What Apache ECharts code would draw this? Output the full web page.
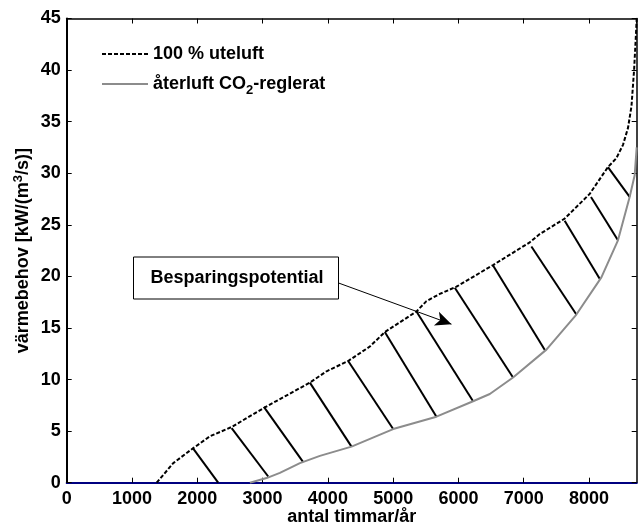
<!DOCTYPE html>
<html>
<head>
<meta charset="utf-8">
<script src="https://cdn.jsdelivr.net/npm/echarts@6/dist/echarts.min.js"></script>
<style>html,body{margin:0;padding:0;background:#fff}#c{width:638px;height:526px}</style>
</head>
<body>
<div id="c"></div>
<script>
const seriesNames = ['100 % uteluft', 'återluft CO₂-reglerat'];
const xTicks = [0, 1000, 2000, 3000, 4000, 5000, 6000, 7000, 8000];
const yTicks = [0, 5, 10, 15, 20, 25, 30, 35, 40, 45];
const xLabel = 'antal timmar/år';
const annotationText = 'Besparingspotential';

// 100 % uteluft [hours, kW/(m3/s)]
const uteluft = [
  [1378, 0], [1632, 1.9], [1938, 3.35], [2194, 4.5], [2526, 5.4], [3035, 7.3],
  [3724, 9.7], [3980, 10.8], [4311, 11.8], [4643, 13.2], [4872, 14.6],
  [5357, 16.6], [5510, 17.6], [5714, 18.3], [5970, 19.0], [6530, 21.1],
  [7092, 23.3], [7245, 24.1], [7627, 25.6], [8010, 28.0], [8290, 30.6],
  [8418, 31.45], [8520, 32.75], [8597, 34.4], [8650, 36.5], [8690, 40.0],
  [8715, 43.0], [8730, 45.0]
];
// återluft CO2-reglerat
const aterluft = [
  [2806, 0], [3061, 0.45], [3265, 0.95], [3572, 1.9], [3878, 2.6], [4362, 3.5],
  [5000, 5.2], [5663, 6.4], [6224, 7.9], [6480, 8.6], [6836, 10.2], [7347, 12.9],
  [7806, 16.3], [8189, 19.9], [8443, 23.5], [8622, 27.7], [8699, 29.8], [8730, 32.5]
];
// hatch segments between the curves [x1, y1, x2, y2]
const hatch = [
  [1938, 3.3, 2320, 0], [2526, 5.3, 3086, 0.6], [3020, 7.35, 3622, 2.0],
  [3724, 9.7, 4362, 3.5], [4311, 11.8, 5000, 5.2], [4872, 14.6, 5663, 6.4],
  [5357, 16.6, 6224, 7.9], [5944, 18.9, 6836, 10.2], [6530, 21.05, 7330, 12.8],
  [7117, 22.9, 7806, 16.3], [7627, 25.4, 8170, 19.7], [8030, 27.7, 8443, 23.5],
  [8290, 30.6, 8622, 27.7]
];
// arrow from annotation box into hatched area
const arrow = [[4133, 19.43], [5893, 15.37]];

const xMin = 0, xMax = 8730, yMin = 0, yMax = 45;
const font = 'Liberation Sans, Arial, sans-serif';

const chart = echarts.init(document.getElementById('c'));
const tickCommon = {inside: true, length: 5, lineStyle: {color: '#000', width: 1}};
chart.setOption({
  animation: false,
  grid: {left: 66.7, right: 1.3, top: 18.5, bottom: 43.3, containLabel: false, outerBoundsMode: 'none'},
  legend: {
    orient: 'vertical', left: 96, top: 40,
    data: seriesNames, itemWidth: 46, itemHeight: 14, itemGap: 12,
    itemStyle: {opacity: 0},
    textStyle: {
      fontFamily: font, fontSize: 18, fontWeight: 'bold', color: '#000',
      rich: {
        a: {fontFamily: font, fontSize: 18, fontWeight: 'bold', color: '#000'},
        s: {fontFamily: font, fontSize: 13, fontWeight: 'bold', color: '#000', padding: [12, 0, 0, 0]}
      }
    },
    formatter: function (n) {
      const i = n.indexOf('₂');
      if (i < 0) return '{a|' + n + '}';
      return '{a|' + n.slice(0, i) + '}{s|2}{a|' + n.slice(i + 1) + '}';
    }
  },
  xAxis: [{
    type: 'value', min: xMin, max: xMax, interval: 1000, position: 'bottom',
    name: xLabel, nameLocation: 'middle', nameGap: 25, nameMoveOverlap: false,
    nameTextStyle: {fontFamily: font, fontSize: 18, fontWeight: 'bold', color: '#000', verticalAlign: 'top'},
    axisLine: {show: true, onZero: false, lineStyle: {color: '#000080', width: 2}},
    axisTick: tickCommon,
    axisLabel: {fontFamily: font, fontSize: 18, fontWeight: 'bold', color: '#000', margin: 7,
      showMaxLabel: false, formatter: v => xTicks.includes(v) ? String(v) : ''},
    splitLine: {show: false}
  }, {
    type: 'value', min: xMin, max: xMax, interval: 1000, position: 'top',
    axisLine: {show: true, onZero: false, lineStyle: {color: '#000', width: 1.5}},
    axisTick: tickCommon, axisLabel: {show: false}, splitLine: {show: false}
  }],
  yAxis: [{
    type: 'value', min: yMin, max: yMax, interval: 5, position: 'left',
    name: '{a|värmebehov [kW/(m}{p|3}{a|/s)]}', nameLocation: 'middle', nameGap: 32, nameRotate: 90,
    nameMoveOverlap: false,
    nameTextStyle: {
      fontFamily: font, fontSize: 18, fontWeight: 'bold', color: '#000',
      rich: {
        a: {fontFamily: font, fontSize: 18, fontWeight: 'bold', color: '#000'},
        p: {fontFamily: font, fontSize: 13, fontWeight: 'bold', color: '#000', padding: [0, 0, 10, 0]}
      }
    },
    axisLine: {show: true, onZero: false, lineStyle: {color: '#000', width: 2}},
    axisTick: tickCommon,
    axisLabel: {fontFamily: font, fontSize: 18, fontWeight: 'bold', color: '#000', margin: 6,
      formatter: v => yTicks.includes(v) ? String(v) : ''},
    splitLine: {show: false}
  }, {
    type: 'value', min: yMin, max: yMax, interval: 5, position: 'right',
    axisLine: {show: true, onZero: false, lineStyle: {color: '#000', width: 1.5}},
    axisTick: tickCommon, axisLabel: {show: false}, splitLine: {show: false}
  }],
  series: [{
    name: seriesNames[0], type: 'line', data: uteluft, symbol: 'none', z: 5,
    lineStyle: {color: '#000', width: 2, type: [4, 2]}, itemStyle: {color: '#000'}
  }, {
    name: seriesNames[1], type: 'line', data: aterluft, symbol: 'none', z: 5,
    lineStyle: {color: '#8c8c8c', width: 2}, itemStyle: {color: '#8c8c8c'},
    markLine: {
      silent: true, symbol: ['none', 'arrow'], symbolSize: [11, 16],
      lineStyle: {color: '#000', width: 1, type: 'solid'}, label: {show: false},
      data: [[{coord: arrow[0]}, {coord: arrow[1]}]]
    }
  }, {
    name: 'hatch', type: 'lines', coordinateSystem: 'cartesian2d', z: 4,
    xAxisIndex: 1, yAxisIndex: 1,
    lineStyle: {color: '#000', width: 2, opacity: 1},
    data: hatch.map(h => ({coords: [[h[0], h[1]], [h[2], h[3]]]}))
  }],
  graphic: [{
    type: 'rect', shape: {x: 133.5, y: 257, width: 205, height: 42},
    style: {fill: '#fff', stroke: '#000', lineWidth: 1}, z: 10
  }, {
    type: 'text', x: 237, y: 278, z: 11,
    style: {text: annotationText, fontFamily: font, fontSize: 18, fontWeight: 'bold',
      fill: '#000', align: 'center', verticalAlign: 'middle'}
  }]
});
</script>
</body>
</html>
